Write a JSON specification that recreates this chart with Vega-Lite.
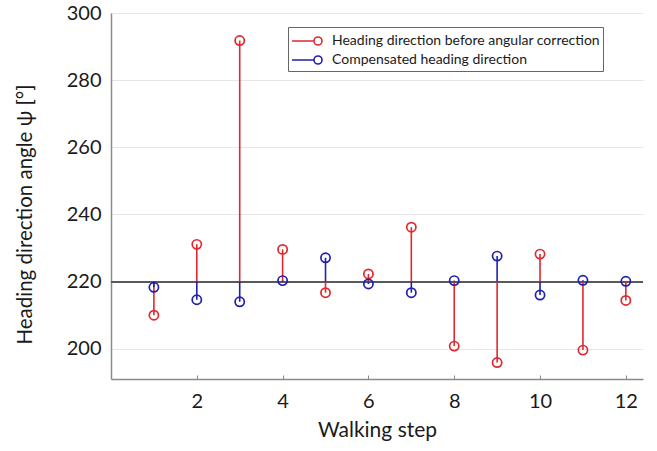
{
  "$schema": "https://vega.github.io/schema/vega-lite/v6.json",
  "width": 532,
  "height": 366,
  "autosize": {"type": "none"},
  "padding": {"left": 111, "top": 13, "right": 14, "bottom": 72},
  "background": "white",
  "config": {
    "view": {"stroke": null},
    "font": "Lato",
    "axis": {"labelFont": "Lato", "titleFont": "Lato", "labelColor": "#1a1a1a", "titleColor": "#1a1a1a", "titleFontWeight": "normal", "domainColor": "#8a8a8a", "domainWidth": 1.5, "gridColor": "#e6e6e6", "gridWidth": 1},
    "legend": {"labelFont": "Lato"}
  },
  "data": {
    "values": [
      {"step": 1, "series": "Heading direction before angular correction", "value": 210.0},
      {"step": 2, "series": "Heading direction before angular correction", "value": 231.1},
      {"step": 3, "series": "Heading direction before angular correction", "value": 291.8},
      {"step": 4, "series": "Heading direction before angular correction", "value": 229.6},
      {"step": 5, "series": "Heading direction before angular correction", "value": 216.7},
      {"step": 6, "series": "Heading direction before angular correction", "value": 222.3},
      {"step": 7, "series": "Heading direction before angular correction", "value": 236.2},
      {"step": 8, "series": "Heading direction before angular correction", "value": 200.8},
      {"step": 9, "series": "Heading direction before angular correction", "value": 195.9},
      {"step": 10, "series": "Heading direction before angular correction", "value": 228.2},
      {"step": 11, "series": "Heading direction before angular correction", "value": 199.6},
      {"step": 12, "series": "Heading direction before angular correction", "value": 214.4},
      {"step": 1, "series": "Compensated heading direction", "value": 218.3},
      {"step": 2, "series": "Compensated heading direction", "value": 214.6},
      {"step": 3, "series": "Compensated heading direction", "value": 214.0},
      {"step": 4, "series": "Compensated heading direction", "value": 220.3},
      {"step": 5, "series": "Compensated heading direction", "value": 227.1},
      {"step": 6, "series": "Compensated heading direction", "value": 219.3},
      {"step": 7, "series": "Compensated heading direction", "value": 216.7},
      {"step": 8, "series": "Compensated heading direction", "value": 220.3},
      {"step": 9, "series": "Compensated heading direction", "value": 227.6},
      {"step": 10, "series": "Compensated heading direction", "value": 216.0},
      {"step": 11, "series": "Compensated heading direction", "value": 220.4},
      {"step": 12, "series": "Compensated heading direction", "value": 220.1}
    ]
  },
  "encoding": {
    "x": {
      "field": "step", "type": "quantitative",
      "scale": {"domain": [0, 12.4], "nice": false, "zero": false},
      "axis": {"values": [2, 4, 6, 8, 10, 12], "grid": false, "tickSize": -4, "tickColor": "#8a8a8a", "labelFontSize": 20, "labelPadding": 16, "title": "Walking step", "titleFontSize": 21, "titlePadding": 8}
    },
    "y": {
      "field": "value", "type": "quantitative",
      "scale": {"domain": [191, 300], "nice": false, "zero": false},
      "axis": {"values": [200, 220, 240, 260, 280, 300], "ticks": false, "labelFontSize": 20, "labelPadding": 10, "title": "Heading direction angle ψ [°]", "titleFontSize": 20.5, "titlePadding": 31, "titleY": 201}
    },
    "color": {
      "field": "series", "type": "nominal",
      "scale": {"domain": ["Heading direction before angular correction", "Compensated heading direction"], "range": ["#e0282e", "#1f1fb0"]},
      "legend": {
        "title": null,
        "orient": "none",
        "legendX": 177,
        "legendY": 14,
        "direction": "vertical",
        "symbolType": "M-1,0L1.2,0M1.2,0A0.4,0.4 0 1,1 2,0A0.4,0.4 0 1,1 1.2,0",
        "symbolSize": 400,
        "symbolStrokeWidth": 1.6,
        "symbolFillColor": "transparent",
        "labelFontSize": 14,
        "labelColor": "#1a1a1a",
        "labelOffset": 19,
        "rowPadding": 0,
        "padding": 3,
        "strokeColor": "#666666",
        "fillColor": "white",
        "labelLimit": 400
      }
    }
  },
  "layer": [
    {
      "mark": {"type": "rule", "strokeWidth": 1.3},
      "encoding": {"y": {"datum": 220}, "x": null, "color": {"value": "#5a5a5a"}}
    },
    {
      "mark": {"type": "rule", "strokeWidth": 1.6},
      "encoding": {"y2": {"datum": 220}}
    },
    {
      "mark": {"type": "point", "shape": "circle", "filled": false, "size": 85, "strokeWidth": 1.7, "opacity": 1}
    }
  ]
}
